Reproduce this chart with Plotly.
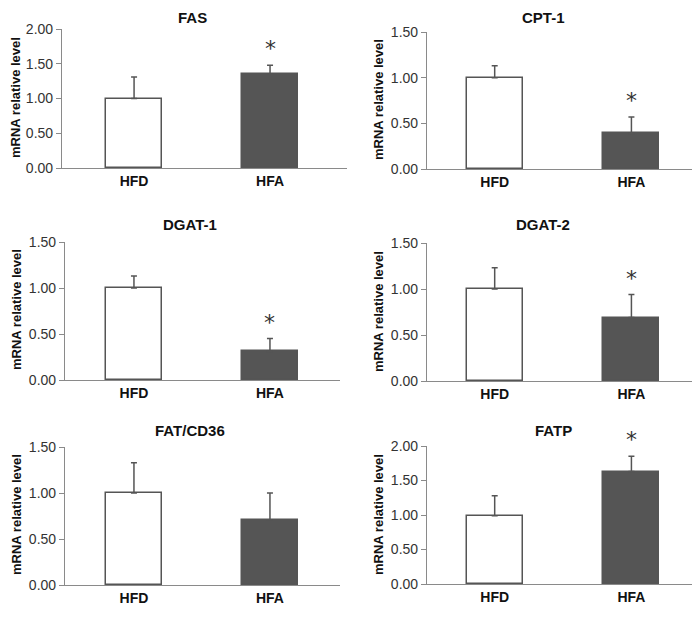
import plotly.graph_objects as go

# page body has an 8px margin; figure is sized so the page is exactly 700x618
W, H = 684, 602
OFF = 8

genes = ["FAS", "CPT-1", "DGAT-1", "DGAT-2", "FAT/CD36", "FATP"]
groups = ["HFD", "HFA"]
hfd_mean = [1.00, 1.00, 1.00, 1.00, 1.00, 0.99]
hfd_err = [0.31, 0.13, 0.13, 0.23, 0.33, 0.29]
hfa_mean = [1.35, 0.39, 0.31, 0.69, 0.71, 1.63]
hfa_err = [0.13, 0.18, 0.14, 0.25, 0.29, 0.22]
significant = [True, True, True, True, False, True]
y_max = [2.0, 1.5, 1.5, 1.5, 1.5, 2.0]
y_ticks = [[0, 0.5, 1.0, 1.5, 2.0], [0, 0.5, 1.0, 1.5], [0, 0.5, 1.0, 1.5],
           [0, 0.5, 1.0, 1.5], [0, 0.5, 1.0, 1.5], [0, 0.5, 1.0, 1.5, 2.0]]

# layout in reference pixels: (x0, x1, ytop, ybottom)
boxes = [(62, 347, 29, 168), (427, 692, 32, 169),
         (65, 340, 242, 380), (427, 692, 243, 381),
         (65, 340, 447, 585), (427, 692, 446, 584)]
xranges = [(-0.53, 1.566), (-0.495, 1.443), (-0.507, 1.515),
           (-0.495, 1.443), (-0.507, 1.515), (-0.495, 1.443)]
title_pos = [(192, 13), (543, 14), (190, 225), (543, 225), (190, 430), (553, 430)]
ytitle_pos = [(16, 98), (378, 100), (16, 310), (378, 312), (16, 515), (378, 515)]


def px(x):
    return min(max((x - OFF) / W, 0), 1)


def py(y):
    return min(max(1 - (y - OFF) / H, 0), 1)


FONT = "Liberation Sans, Arial, sans-serif"
AX = "#8a8a8a"
EDGE = "#555555"
DARK = "#555555"

fig = go.Figure()
annotations = []
for i, g in enumerate(genes):
    n = "" if i == 0 else str(i + 1)
    x0, x1, yt, yb = boxes[i]
    xa = dict(domain=[px(x0), px(x1)], range=list(xranges[i]),
              tickvals=[0, 1], ticktext=["<b>%s</b>" % s for s in groups],
              showline=True, linecolor=AX, linewidth=1.2, ticks="",
              showgrid=False, zeroline=False, fixedrange=True, automargin=False,
              tickfont=dict(family=FONT, size=14, color="#111"),
              anchor="y" + n)
    ya = dict(domain=[py(yb), py(yt)], range=[0, y_max[i]],
              tickvals=y_ticks[i], ticktext=["%.2f" % v for v in y_ticks[i]],
              showline=True, linecolor=AX, linewidth=1.2, ticks="outside",
              ticklen=5, tickcolor=AX, tickwidth=1.2,
              showgrid=False, zeroline=False, fixedrange=True, automargin=False,
              tickfont=dict(family=FONT, size=14, color="#333"),
              anchor="x" + n)
    fig.layout["xaxis" + n] = xa
    fig.layout["yaxis" + n] = ya
    fig.add_trace(go.Bar(
        x=[0, 1], y=[hfd_mean[i], hfa_mean[i]], width=0.41,
        marker=dict(color=["white", DARK], line=dict(color=EDGE, width=1.5)),
        error_y=dict(type="data", symmetric=False,
                     array=[hfd_err[i], hfa_err[i]], arrayminus=[0, 0],
                     color=EDGE, thickness=1.5, width=3),
        xaxis="x" + n, yaxis="y" + n, showlegend=False))
    if significant[i]:
        annotations.append(dict(
            x=1, y=hfa_mean[i] + hfa_err[i], xref="x" + n, yref="y" + n,
            text="*", showarrow=False, yanchor="bottom", yshift=2,
            font=dict(family="DejaVu Sans, sans-serif", size=22, color="#333")))
    tx, ty = title_pos[i]
    if i < 2:
        tdict = dict(y=1.0, yanchor="top")
    else:
        tdict = dict(y=py(ty), yanchor="middle")
    annotations.append(dict(x=px(tx), xref="paper", yref="paper",
                            text="<b>%s</b>" % g, showarrow=False,
                            xanchor="center", borderpad=0,
                            font=dict(family=FONT, size=15, color="#111"), **tdict))
    ax_, ay_ = ytitle_pos[i]
    annotations.append(dict(x=px(ax_), y=py(ay_), xref="paper", yref="paper",
                            text="<b>mRNA relative level</b>", showarrow=False,
                            textangle=-90, xanchor="center", yanchor="middle",
                            font=dict(family=FONT, size=13, color="#111")))

fig.update_layout(template="none", width=W, height=H,
                  margin=dict(l=0, r=0, t=0, b=0, pad=0, autoexpand=False),
                  paper_bgcolor="white", plot_bgcolor="white",
                  annotations=annotations, bargap=0)
fig.write_html("out.html")
